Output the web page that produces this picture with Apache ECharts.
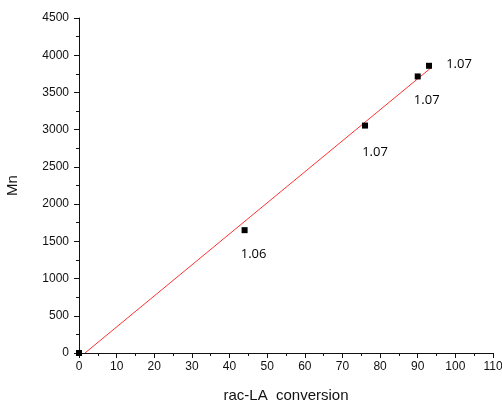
<!DOCTYPE html>
<html>
<head>
<meta charset="utf-8">
<script src="https://cdn.jsdelivr.net/npm/echarts@6/dist/echarts.min.js"></script>
<style>html,body{margin:0;padding:0;background:#fff}#c{width:502px;height:402px}</style>
</head>
<body>
<div id="c"></div>
<script>
var conversion = [0, 44, 76, 90, 93];
var mn = [0, 1650, 3055, 3715, 3858];
var pdiLabels = ['', '1.06', '1.07', '1.07', '1.07'];
var fitX = [1.6, 93.5];
var fitY = [0, 3830];
var xTicks = [0, 10, 20, 30, 40, 50, 60, 70, 80, 90, 100, 110];
var yTicks = [0, 500, 1000, 1500, 2000, 2500, 3000, 3500, 4000, 4500];

var labelOffsets = [[0, 0], [9, 24], [10, 27], [9, 24], [30, -1]];

var chart = echarts.init(document.getElementById('c'));
var axisFont = {fontFamily: 'Liberation Sans', fontSize: 12, color: '#111'};
chart.setOption({
  animation: false,
  grid: {left: 79, right: 9, top: 18, bottom: 49, containLabel: false, outerBoundsMode: 'none'},
  xAxis: {
    type: 'value', min: xTicks[0], max: xTicks[xTicks.length - 1], interval: 10,
    name: 'rac-LA  conversion', nameLocation: 'middle', nameGap: 35,
    nameTextStyle: {fontFamily: 'Liberation Sans', fontSize: 15, color: '#111'},
    axisLine: {show: true, onZero: false, lineStyle: {color: '#111', width: 1}},
    axisTick: {show: true, inside: false, length: 5, lineStyle: {color: '#111'}},
    minorTick: {show: true, splitNumber: 2, length: 3, lineStyle: {color: '#111'}},
    splitLine: {show: false},
    axisLabel: Object.assign({margin: 8, formatter: function (v) { return String(v); }}, axisFont)
  },
  yAxis: {
    type: 'value', min: yTicks[0], max: yTicks[yTicks.length - 1], interval: 500,
    name: 'Mn', nameLocation: 'middle', nameGap: 59,
    nameTextStyle: {fontFamily: 'Liberation Sans', fontSize: 15, color: '#111'},
    axisLine: {show: true, onZero: false, lineStyle: {color: '#111', width: 1}},
    axisTick: {show: true, inside: false, length: 5, lineStyle: {color: '#111'}},
    minorTick: {show: true, splitNumber: 2, length: 3, lineStyle: {color: '#111'}},
    splitLine: {show: false},
    axisLabel: Object.assign({margin: 10, formatter: function (v) { return String(v); }}, axisFont)
  },
  series: [
    {
      type: 'line',
      data: fitX.map(function (x, i) { return [x, fitY[i]]; }),
      showSymbol: false, symbol: 'none',
      lineStyle: {color: '#f33', width: 1},
      z: 1
    },
    {
      type: 'scatter',
      symbol: 'rect', symbolSize: 6,
      itemStyle: {color: '#000', opacity: 1},
      clip: false,
      data: conversion.map(function (x, i) {
        return {
          value: [x, mn[i]],
          label: {
            show: pdiLabels[i] !== '',
            formatter: pdiLabels[i],
            position: 'inside',
            offset: labelOffsets[i],
            fontFamily: 'Open Sans', fontSize: 13, color: '#000'
          }
        };
      }),
      z: 2
    }
  ]
});
</script>
</body>
</html>
